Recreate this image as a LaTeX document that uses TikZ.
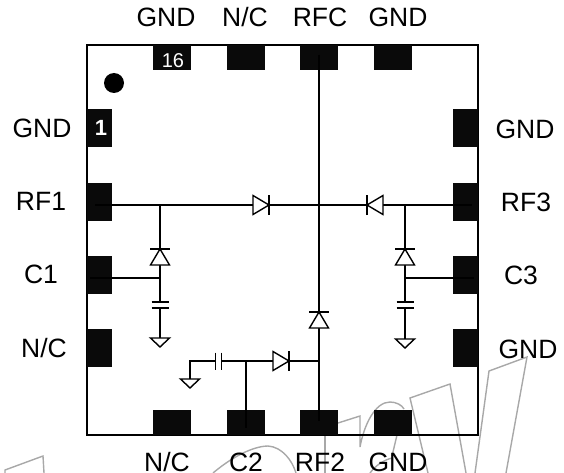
\documentclass[tikz,border=0pt]{standalone}
\usepackage{fontspec}
\setmainfont{Liberation Sans}
\definecolor{padblack}{HTML}{0A0A0A}
\definecolor{mark}{HTML}{A8A8A8}
\tikzset{
  wire/.style={draw=black,line width=1.4pt,line join=miter},
  outline/.style={draw=black,line width=1.5pt},
  ghost/.style={draw=mark,line width=1.4pt,line join=miter},
  padh/.style={rectangle,fill=padblack,inner sep=0pt,minimum width=38pt,minimum height=25pt},
  padv/.style={rectangle,fill=padblack,inner sep=0pt,minimum width=25pt,minimum height=38pt},
  lab/.style={inner sep=0pt,anchor=base,font=\fontsize{26.5}{26.5}\selectfont},
  diode/.pic={
    \draw[wire,fill=white] (-16,-9.5) -- (-16,9.5) -- (0,0) -- cycle;
    \draw[wire] (0,-10) -- (0,10);
  },
  capacitor/.pic={
    \fill[white] (-3,-8) rectangle (3,8);
    \draw[wire] (-3,-8.5) -- (-3,8.5);
    \draw[wire] (3,-8.5) -- (3,8.5);
  },
  earth/.pic={
    \draw[wire,fill=white] (-9.5,0) -- (9.5,0) -- (0,9) -- cycle;
  }
}
\begin{document}
\begin{tikzpicture}[x=1pt,y=-1pt]
\useasboundingbox (0,0) rectangle (564,473);
% watermark
\draw[ghost] (5,473) -- (5,470) -- (43,456) -- (44,473);
\draw[ghost] (213,473) .. controls (238,452) and (258,446) .. (268,446) .. controls (282,447) and (292,460) .. (296,473);
\draw[ghost] (325,435) -- (325,473);
\draw[ghost] (338,423) -- (360,416) -- (360,447) .. controls (364,425) and (375,402) .. (390,402) .. controls (396,402) and (402,405) .. (404,409);
\draw[ghost] (397,435) -- (392,456);
\draw[ghost] (370,473) .. controls (376,465) and (384,460) .. (392,458);
\draw[ghost] (428,473) -- (410,398) -- (450,384) -- (466,473);
\draw[ghost] (475,473) -- (489,371) -- (527,357) -- (506,473);
% outline
\draw[outline] (87,45) rectangle (478,435);
% pads
\node[padh] (t1) at (172,57.5) {};
\node[padh] (t2) at (246,57.5) {};
\node[padh] (t3) at (319,57.5) {};
\node[padh] (t4) at (392.5,57.5) {};
\node[padh] (b1) at (172,422.5) {};
\node[padh] (b2) at (246,422.5) {};
\node[padh] (b3) at (319,422.5) {};
\node[padh] (b4) at (392.5,422.5) {};
\node[padv] (l1) at (99.5,128.5) {};
\node[padv] (l2) at (99.5,202) {};
\node[padv] (l3) at (99.5,275) {};
\node[padv] (l4) at (99.5,348) {};
\node[padv] (r1) at (465.5,128.5) {};
\node[padv] (r2) at (465.5,202) {};
\node[padv] (r3) at (465.5,275) {};
\node[padv] (r4) at (465.5,348) {};
\fill[black] (114,83) circle (10);
\node[text=white,inner sep=0pt,font=\fontsize{20}{20}\selectfont] (n16) at (173,61) {16};
\node[text=white,inner sep=0pt,font=\bfseries\fontsize{22}{22}\selectfont] (n1) at (101,128) {1};
% junctions
\coordinate (hl) at (95,205);
\coordinate (hr) at (472,205);
\coordinate (vt) at (319,55);
\coordinate (vb) at (319,421);
\coordinate (s1) at (160,205);
\coordinate (c1j) at (160,278);
\coordinate (g1) at (160,338);
\coordinate (s3) at (405,205);
\coordinate (c3j) at (405,278);
\coordinate (g3) at (405,339);
\coordinate (c1e) at (90,278);
\coordinate (c3e) at (474,278);
\coordinate (j2) at (319,361);
\coordinate (c2j) at (246,361);
\coordinate (c2e) at (246,428);
\coordinate (cl) at (218.5,361);
\coordinate (gc) at (190,361);
\coordinate (g2) at (190,379);
% wires
\draw[wire] (hl) -- (hr);
\draw[wire] (vt) -- (vb);
\draw[wire] (s1) -- (g1);
\draw[wire] (c1e) -- (c1j);
\draw[wire] (s3) -- (g3);
\draw[wire] (c3j) -- (c3e);
\draw[wire] (j2) -- (gc) -- (g2);
\draw[wire] (c2j) -- (c2e);
% devices
\pic at (269,205) {diode};
\pic[rotate=180] at (367,205) {diode};
\pic[rotate=90] at (160,249) {diode};
\pic[rotate=90] at (405,249) {diode};
\pic[rotate=90] at (319,312) {diode};
\pic at (289,361) {diode};
\pic[rotate=90] at (160,305) {capacitor};
\pic[rotate=90] at (405,305) {capacitor};
\pic at (218.5,361) {capacitor};
\pic at (160,338) {earth};
\pic at (405,339) {earth};
\pic at (190,379) {earth};
% labels
\node[lab] (lt1) at (166,26.5) {GND};
\node[lab] (lt2) at (245,26.5) {N/C};
\node[lab] (lt3) at (320,26.5) {RFC};
\node[lab] (lt4) at (398,26.5) {GND};
\node[lab] (ll1) at (42,138) {GND};
\node[lab] (ll2) at (41,210) {RF1};
\node[lab] (ll3) at (41,283) {C1};
\node[lab] (ll4) at (44,357) {N/C};
\node[lab] (lr1) at (525,139) {GND};
\node[lab] (lr2) at (526,211) {RF3};
\node[lab] (lr3) at (521,284) {C3};
\node[lab] (lr4) at (528,358) {GND};
\node[lab] (lb1) at (167,471) {N/C};
\node[lab] (lb2) at (246,471) {C2};
\node[lab] (lb3) at (320,471) {RF2};
\node[lab] (lb4) at (398,471) {GND};
\end{tikzpicture}
\end{document}
